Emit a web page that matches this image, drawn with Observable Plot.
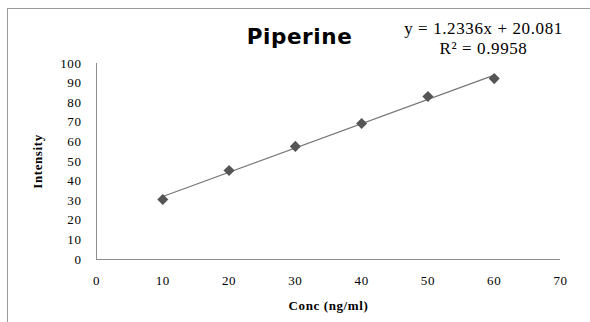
<!DOCTYPE html>
<html><head><meta charset="utf-8">
<script src="https://cdn.jsdelivr.net/npm/d3@7"></script>
<script src="https://cdn.jsdelivr.net/npm/@observablehq/plot@0.6"></script>
<style>
html,body{margin:0;padding:0;background:#fff;}
#wrap{position:relative;width:590px;height:322px;overflow:hidden;}
#frame{position:absolute;left:7px;top:8px;width:600px;height:330px;border-top:1px solid #9a9a9a;border-left:1px solid #9a9a9a;}
#chart{position:absolute;left:0;top:0;}
</style></head>
<body><div id="wrap"><div id="frame"></div><div id="chart"></div></div>
<script>
const conc = [10, 20, 30, 40, 50, 60];
const intensity = [30.6, 45.4, 57.7, 69.4, 83.2, 92.3];
const xTicks = [0, 10, 20, 30, 40, 50, 60, 70];
const yTicks = [0, 10, 20, 30, 40, 50, 60, 70, 80, 90, 100];
const title = "Piperine";
const equation = "y = 1.2336x + 20.081";
const rSquared = "R² = 0.9958";
const xLabel = "Conc (ng/ml)";
const yLabel = "Intensity";

const data = conc.map((c, i) => ({conc: c, intensity: intensity[i]}));
const serif = "'Liberation Serif', 'DejaVu Serif', serif";

const chart = Plot.plot({
  width: 590, height: 322,
  marginLeft: 96, marginRight: 30, marginTop: 63, marginBottom: 63,
  style: {fontFamily: serif, fontSize: "13px", color: "#000", background: "transparent", letterSpacing: "0.6px"},
  x: {domain: [0, 70], ticks: xTicks, tickSize: 0, tickPadding: 16, label: null},
  y: {domain: [0, 100], ticks: yTicks, tickSize: 0, tickPadding: 15, label: null},
  marks: [
    Plot.ruleY([0], {stroke: "#8c8c8c"}),
    Plot.ruleX([0], {stroke: "#8c8c8c"}),
    Plot.linearRegressionY(data, {x: "conc", y: "intensity", stroke: "#777", strokeWidth: 1.2, ci: 0}),
    Plot.dot(data, {x: "conc", y: "intensity", symbol: "diamond2", r: 5, fill: "#555", stroke: "none"}),
    Plot.text([title], {text: d => d, frameAnchor: "top", textAnchor: "middle", dy: -35, dx: -29, fontFamily: "'DejaVu Sans', Verdana, sans-serif", fontWeight: "bold", fontSize: 21.5, fill: "#000"}),
    Plot.text([equation], {text: d => d, frameAnchor: "top-right", textAnchor: "middle", dx: -77, dy: -42, fontFamily: serif, fontSize: 17, fill: "#000", letterSpacing: "2.2px"}),
    Plot.text([rSquared], {text: d => d, frameAnchor: "top-right", textAnchor: "middle", dx: -77, dy: -22, fontFamily: serif, fontSize: 17, fill: "#000", letterSpacing: "2.2px"}),
    Plot.text([xLabel], {text: d => d, frameAnchor: "bottom", textAnchor: "middle", dy: 50, fontFamily: serif, fontWeight: "bold", fontSize: 13, fill: "#000"}),
    Plot.text([yLabel], {text: d => d, frameAnchor: "left", textAnchor: "middle", dx: -59, dy: 0, rotate: -90, fontFamily: serif, fontWeight: "bold", fontSize: 13, fill: "#000"})
  ]
});
chart.querySelectorAll("[aria-label$='axis'] text, [aria-label$='tick label'] text").forEach(t => t.setAttribute("fill", "#000"));
document.getElementById("chart").appendChild(chart);
</script></body></html>
